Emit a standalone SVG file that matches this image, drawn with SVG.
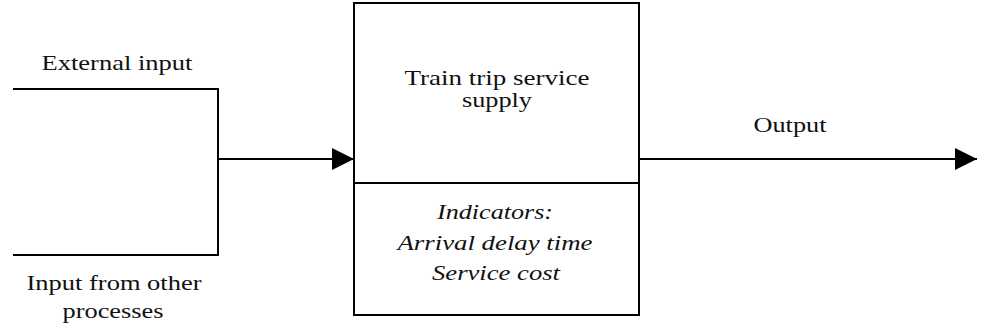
<svg xmlns="http://www.w3.org/2000/svg" width="988" height="331" viewBox="0 0 988 331">
  <style>
    .ln { stroke: #000; stroke-width: 2; fill: none; }
    text { font-family: 'Liberation Serif', 'DejaVu Serif', serif; font-size: 21px; fill: #111; text-anchor: middle; }
    .it { font-style: italic; }
  </style>
  <defs>
    <marker id="head" viewBox="0 0 22 22" markerWidth="22" markerHeight="22" refX="22" refY="11" orient="auto" markerUnits="userSpaceOnUse">
      <path d="M0,0 L22,11 L0,22 Z" fill="#000"/>
    </marker>
  </defs>

  <!-- process box with upper title and lower indicator panel -->
  <g id="process" font-family="Liberation Serif, serif">
    <rect class="ln" x="354" y="3" width="285" height="312"/>
    <line class="ln" x1="354" y1="183" x2="639" y2="183"/>
    <text x="497" y="85" textLength="185" lengthAdjust="spacingAndGlyphs">Train trip service</text>
    <text x="497" y="107" textLength="70" lengthAdjust="spacingAndGlyphs">supply</text>
    <text class="it" x="495" y="219" textLength="116" lengthAdjust="spacingAndGlyphs">Indicators:</text>
    <text class="it" x="495" y="250" textLength="195" lengthAdjust="spacingAndGlyphs">Arrival delay time</text>
    <text class="it" x="496" y="280" textLength="128" lengthAdjust="spacingAndGlyphs">Service cost</text>
  </g>

  <!-- input labels -->
  <g id="external-input">
    <text x="117" y="70" textLength="151" lengthAdjust="spacingAndGlyphs">External input</text>
  </g>
  <g id="other-input">
    <text x="114" y="290" textLength="175" lengthAdjust="spacingAndGlyphs">Input from other</text>
    <text x="113" y="318" textLength="101" lengthAdjust="spacingAndGlyphs">processes</text>
  </g>
  <g id="output">
    <text x="790" y="132" textLength="73" lengthAdjust="spacingAndGlyphs">Output</text>
  </g>

  <!-- connectors -->
  <g id="connectors">
    <polyline class="ln" points="13,89 218,89 218,255 13,255"/>
    <line class="ln" x1="218" y1="159" x2="354" y2="159" marker-end="url(#head)"/>
    <line class="ln" x1="639" y1="159" x2="977" y2="159" marker-end="url(#head)"/>
  </g>
</svg>
